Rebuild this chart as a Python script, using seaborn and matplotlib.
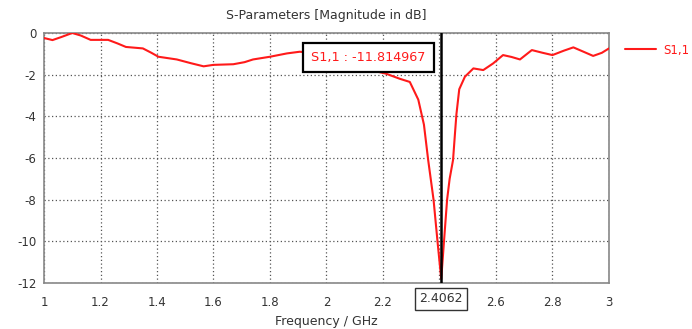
import matplotlib
matplotlib.use("Agg")
import matplotlib.pyplot as plt
import seaborn as sns
import pandas as pd

freq = [1.0, 1.03, 1.06, 1.1, 1.13, 1.165, 1.2, 1.227, 1.26, 1.29, 1.35, 1.38, 1.405,
        1.47, 1.52, 1.565, 1.6, 1.67, 1.71, 1.74, 1.8, 1.86, 1.905, 1.95, 2.0, 2.1,
        2.21, 2.26, 2.295, 2.325, 2.345, 2.36, 2.379, 2.393, 2.4062, 2.416, 2.427,
        2.436, 2.448, 2.455, 2.46, 2.47, 2.49, 2.52, 2.555, 2.59, 2.625, 2.655, 2.685, 2.727,
        2.765, 2.8, 2.84, 2.874, 2.91, 2.944, 2.975, 3.0]
s11 = [-0.24, -0.34, -0.2, 0.0, -0.12, -0.33, -0.33, -0.33, -0.5, -0.67, -0.74, -0.95, -1.14,
       -1.27, -1.45, -1.6, -1.53, -1.5, -1.4, -1.27, -1.14, -0.98, -0.9, -0.95, -1.2, -1.6,
       -1.95, -2.2, -2.35, -3.2, -4.4, -6.1, -8.0, -10.0, -11.814967, -10.0, -8.0,
       -7.0, -6.1, -4.8, -3.9, -2.7, -2.1, -1.7, -1.78, -1.46, -1.06, -1.15, -1.27, -0.82,
       -0.95, -1.06, -0.85, -0.69, -0.9, -1.1, -0.95, -0.74]
xticks = [1, 1.2, 1.4, 1.6, 1.8, 2, 2.2, 2.4, 2.6, 2.8, 3]
xticklabels = ["1", "1.2", "1.4", "1.6", "1.8", "2", "2.2", "", "2.6", "2.8", "3"]
yticks = [0, -2, -4, -6, -8, -10, -12]
marker_f = 2.4062
marker_v = -11.814967

df = pd.DataFrame({"Frequency": freq, "S1,1": s11})

sns.set_style("white")
plt.rcParams["font.family"] = ["DejaVu Sans"]
fig = plt.figure(figsize=(6.92, 3.29), dpi=100)
ax = fig.add_axes([0.0636, 0.14, 0.8164, 0.7597])

ax.grid(True, color="#555555", linestyle=(0, (1, 2)), linewidth=0.9)
sns.lineplot(data=df, x="Frequency", y="S1,1", ax=ax, color="#ff1a1a", linewidth=1.5,
             sort=False, label="S1,1", zorder=3)
ax.axvline(marker_f, color="black", linewidth=1.8, zorder=4)

ax.set_xlim(1, 3)
ax.set_ylim(-12, 0)
ax.set_xticks(xticks)
ax.set_xticklabels(xticklabels)
ax.set_yticks(yticks)
ax.set_yticklabels([str(v) for v in yticks])
ax.tick_params(axis="both", labelsize=8.5, length=3, direction="inout", color="#666666",
               labelcolor="#333333")
ax.tick_params(axis="x", pad=8)
ax.tick_params(axis="y", pad=4)
for s in ax.spines.values():
    s.set_color("#888888")
    s.set_linewidth(1.2)

ax.set_xlabel("Frequency / GHz", fontsize=9, color="#333333")
ax.xaxis.set_label_coords(0.5, -0.13)
ax.set_ylabel("")
ax.set_title("S-Parameters [Magnitude in dB]", fontsize=9, color="#333333", pad=10)

ax.text(marker_f, -12.45, "2.4062", fontsize=9, color="#333333", ha="center", va="top",
        bbox=dict(boxstyle="square,pad=0.35", fc="white", ec="#333333", lw=1))
ax.text(marker_f - 0.055, -1.18, "S1,1 : -11.814967", fontsize=9.2, color="#ff1a1a",
        ha="right", va="center", zorder=6,
        bbox=dict(boxstyle="square,pad=0.62", fc="white", ec="black", lw=1.6))

leg = ax.legend(loc="upper left", bbox_to_anchor=(1.01, 1.0), frameon=False, fontsize=8.5,
                handlelength=2.6, handletextpad=0.6)
for t in leg.get_texts():
    t.set_color("#ff1a1a")

fig.savefig("out.png", dpi=100)
